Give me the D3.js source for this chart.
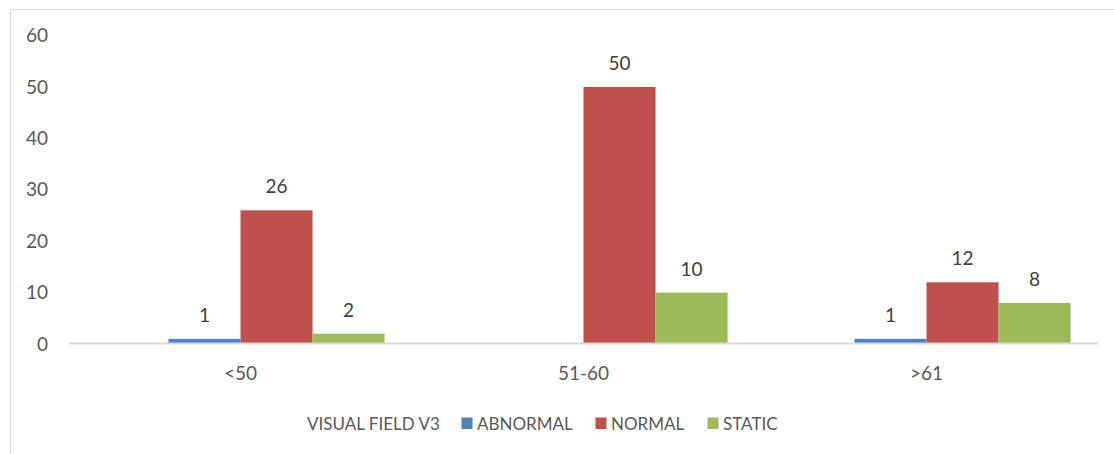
<!DOCTYPE html>
<html>
<head>
<meta charset="utf-8">
<script src="https://cdn.jsdelivr.net/npm/d3@7"></script>
<style>
  html, body { margin: 0; padding: 0; background: #fff; }
  svg { display: block; font-family: Lato, "Open Sans", sans-serif; }
</style>
</head>
<body>
<svg id="chart" width="1114" height="454"></svg>
<script>
// Age groups along the x axis
const categories = ["<50", "51-60", ">61"];
// Series (the first one is an empty header series, listed in the legend only)
const seriesNames = ["VISUAL FIELD V3", "ABNORMAL", "NORMAL", "STATIC"];
const seriesColors = ["none", "#4f81bd", "#c0504d", "#9bbb59"];
const headerValues   = [null, null, null];
const abnormalValues = [1, null, 1];
const normalValues   = [26, 50, 12];
const staticValues   = [2, 10, 8];
const yTicks = [0, 10, 20, 30, 40, 50, 60];

const seriesValues = [headerValues, abnormalValues, normalValues, staticValues];

const svg = d3.select("#chart");

// Chart frame
svg.append("rect")
  .attr("x", 10.5).attr("y", 9.5)
  .attr("width", 1120).attr("height", 460)
  .attr("fill", "none").attr("stroke", "#d9d9d9").attr("stroke-width", 1);

const x0 = d3.scaleBand()
  .domain(categories)
  .range([69, 1098])
  .paddingInner(0.16)
  .paddingOuter(0.08);

const x1 = d3.scaleBand()
  .domain(seriesNames)
  .range([0, x0.bandwidth()]);

const y = d3.scaleLinear().domain([0, 60]).range([344, 35.5]);

// Y axis labels (no axis line or gridlines)
const yAxis = d3.axisLeft(y).tickValues(yTicks).tickSize(0).tickPadding(0);
const yg = svg.append("g").attr("transform", "translate(48,0)").call(yAxis);
yg.select(".domain").remove();
yg.selectAll("text")
  .attr("fill", "#595959")
  .style("font-size", "19px")
  .style("font-family", "Lato, 'Open Sans', sans-serif");

// Bars
const groups = svg.append("g").selectAll("g")
  .data(categories)
  .join("g")
  .attr("transform", d => `translate(${x0(d)},0)`);

groups.each(function(cat, ci) {
  const g = d3.select(this);
  seriesNames.forEach((name, si) => {
    const v = seriesValues[si][ci];
    if (v == null) return;
    g.append("rect")
      .attr("x", x1(name))
      .attr("y", y(v))
      .attr("width", x1.bandwidth())
      .attr("height", y(0) - y(v))
      .attr("fill", seriesColors[si]);
    g.append("text")
      .attr("x", x1(name) + x1.bandwidth() / 2)
      .attr("y", y(v) - 17)
      .attr("text-anchor", "middle")
      .attr("fill", "#404040")
      .style("font-size", "19px")
      .text(v);
  });
});

// X axis
const xAxis = d3.axisBottom(x0).tickSize(0).tickPadding(0);
const xg = svg.append("g").attr("transform", "translate(0,343.5)").call(xAxis);
xg.select(".domain")
  .attr("stroke", "#d9d9d9")
  .attr("stroke-width", 2)
  .attr("d", `M${x0.range()[0]},0H${x0.range()[1]}`);
xg.selectAll("text")
  .attr("fill", "#595959")
  .attr("dy", 0)
  .attr("y", 36)
  .style("font-size", "19px")
  .style("font-family", "Lato, 'Open Sans', sans-serif");

// Legend
const legendX = [307, 477, 611, 723];
const legend = svg.append("g");
seriesNames.forEach((name, i) => {
  if (seriesColors[i] !== "none") {
    legend.append("rect")
      .attr("x", legendX[i] - 15.5).attr("y", 417.5)
      .attr("width", 11).attr("height", 11.5)
      .attr("fill", seriesColors[i]);
  }
  legend.append("text")
    .attr("x", legendX[i]).attr("y", 429.5)
    .attr("fill", "#595959")
    .style("font-size", "17px")
    .text(name);
});
</script>
</body>
</html>
